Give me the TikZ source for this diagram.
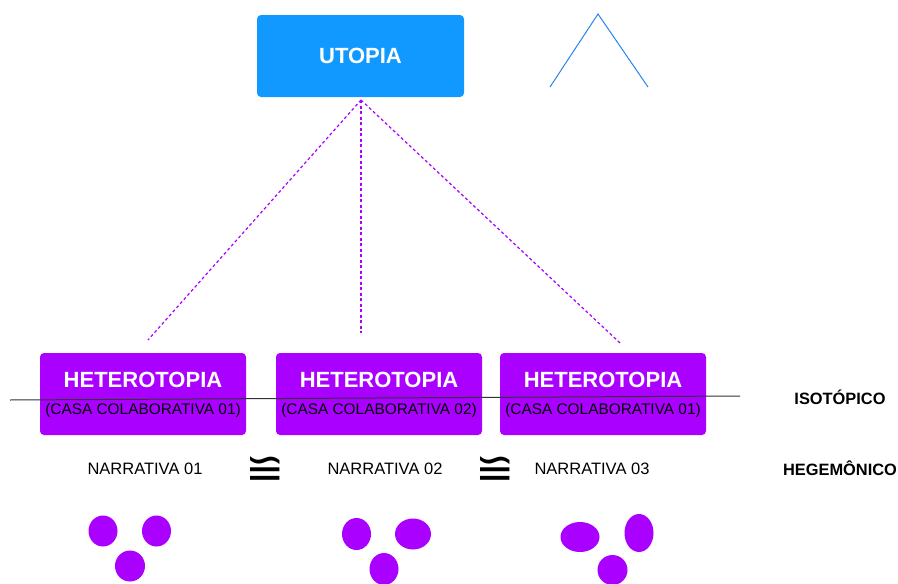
\documentclass[tikz,border=0pt]{standalone}
\usepackage{fontspec}
\setmainfont{Liberation Sans}
\newfontfamily\symfont{DejaVu Sans}
\definecolor{ublue}{RGB}{17,153,255}
\definecolor{hpurple}{RGB}{170,0,255}
\definecolor{tblue}{RGB}{40,130,240}
\begin{document}
\begin{tikzpicture}[x=1pt,y=-1pt,
  ubox/.style={fill=ublue,rounded corners=4pt,minimum width=207pt,minimum height=82pt,inner sep=0pt},
  hbox/.style={fill=hpurple,rounded corners=4pt,minimum width=206pt,minimum height=82pt,inner sep=0pt},
  htitle/.style={text=white,font=\fontsize{22}{24}\selectfont\bfseries,inner sep=0pt},
  hsub/.style={text=black,font=\fontsize{15.4}{17}\selectfont,inner sep=0pt},
  narr/.style={font=\fontsize{16.5}{18}\selectfont,inner sep=0pt},
  lbl/.style={font=\fontsize{16.4}{18}\selectfont\bfseries,inner sep=0pt},
  eqsym/.style={font=\symfont\fontsize{47}{47}\selectfont,inner sep=0pt},
  dot/.style={fill=hpurple,draw=none},
  dashline/.style={draw=hpurple,line width=1.2pt,dash pattern=on 3pt off 2.5pt}]
\useasboundingbox (0,0) rectangle (898,584);
% top
\node[ubox] (utopia) at (360.5,56) {};
\node[text=white,font=\fontsize{22}{24}\selectfont\bfseries,inner sep=0pt] (utext) at (utopia.center) {UTOPIA};
\coordinate (apex) at (598,14);
\coordinate (tl) at (550,87);
\coordinate (tr) at (648,87);
\draw[tblue,line width=1pt] (tl) -- (apex) -- (tr);
\coordinate (utop) at (361,100);
\coordinate (d1) at (148,340);
\coordinate (d2) at (361,333);
\coordinate (d3) at (620,343);
\draw[dashline] (utop) -- (d1);
\draw[dashline] (utop) -- (d2);
\draw[dashline] (utop) -- (d3);
% boxes
\node[hbox] (h1) at (143,394) {};
\node[hbox] (h2) at (379,394) {};
\node[hbox] (h3) at (603,394) {};
\foreach \b/\n in {h1/01,h2/02,h3/01}{
  \node[htitle] (\b t) at ([yshift=14pt]\b.center) {HETEROTOPIA};
  \node[hsub] (\b s) at ([yshift=-16.5pt]\b.center) {(CASA COLABORATIVA \n)};
}
\coordinate (lineL) at (10,400);
\coordinate (lineR) at (740,396);
\draw[black!80,line width=1pt] (lineL) -- (lineR);
\node[lbl] (iso) at (840,397) {ISOTÓPICO};
\node[lbl] (heg) at (840,468) {HEGEMÔNICO};
% narratives
\node[narr] (n1) at (145,469) {NARRATIVA 01};
\node[narr] (n2) at (385,469) {NARRATIVA 02};
\node[narr] (n3) at (592,469) {NARRATIVA 03};
\node[eqsym] (e1) at (265,471) {≌};
\node[eqsym] (e2) at (495,471) {≌};
% dots
\fill[dot] (103,531) ellipse [x radius=14.5,y radius=15.5];
\fill[dot] (156.5,531) ellipse [x radius=14.5,y radius=15.5];
\fill[dot] (130,566) ellipse [x radius=15,y radius=15.5];
\fill[dot] (356.5,534) ellipse [x radius=14.5,y radius=16];
\fill[dot] (413,534) ellipse [x radius=18,y radius=15.5];
\fill[dot] (384,569) ellipse [x radius=14.5,y radius=16];
\fill[dot] (580,537) ellipse [x radius=19.5,y radius=15];
\fill[dot] (639,533) ellipse [x radius=14.5,y radius=19];
\fill[dot] (612.5,570) ellipse [x radius=15,y radius=15];
\end{tikzpicture}
\end{document}
